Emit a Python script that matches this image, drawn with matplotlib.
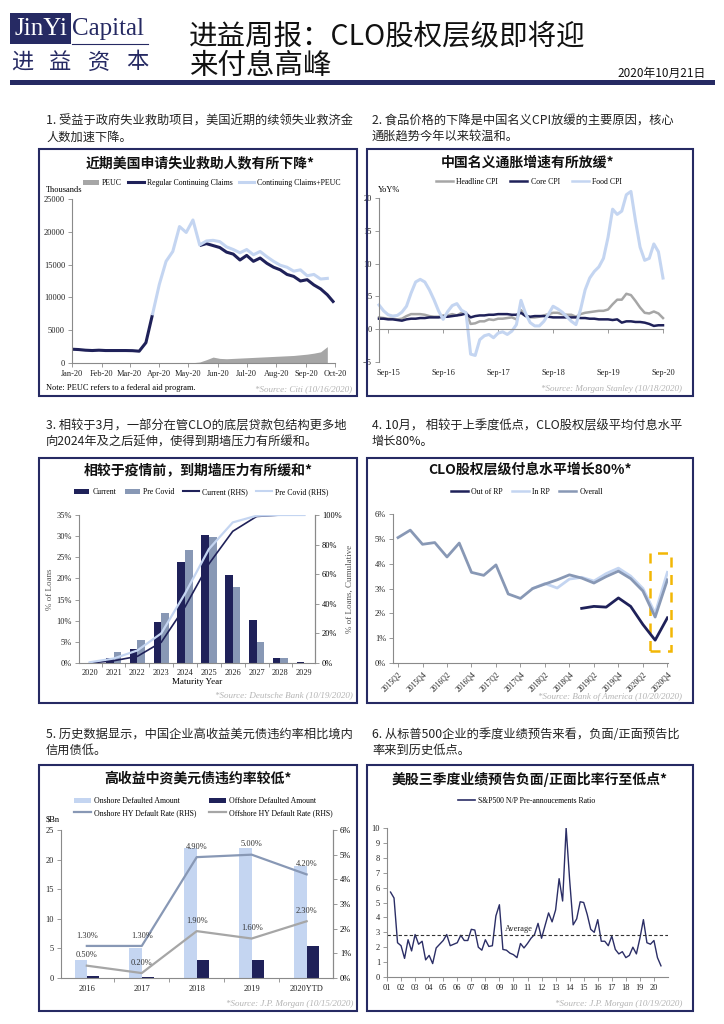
import numpy as np
import matplotlib
matplotlib.use("Agg")
import matplotlib.pyplot as plt
from matplotlib.patches import Rectangle, Patch
from matplotlib.lines import Line2D

nan = np.nan

# ---------------- Chart 1: US continuing claims (thousands), weekly ----------------
claims_start = "2020-01-01"
regular_claims = [2100, 2050, 1950, 1900, 1950, 1900, 1900, 1900, 1900, 1880, 1800, 3100, 7500,
                  nan, nan, nan, nan, nan, nan,
                  17900, 18200, 17900, 17600, 16900, 16600, 15700, 16400, 15500, 16000, 15200,
                  14600, 14200, 13500, 13200, 12500, 12700, 11900, 11300, 10400, 9200]
claims_plus_peuc = [nan, nan, nan, nan, nan, nan, nan, nan, nan, nan, nan, nan, 7500,
                    12000, 15500, 17000, 20800, 19900, 21800,
                    18000, 18600, 18700, 18500, 17700, 17300, 16800, 17300, 16500, 17000, 16200,
                    15500, 14900, 14600, 14000, 14200, 13300, 13500, 12800, 12900, nan]
peuc = [nan, nan, nan, nan, nan, nan, nan, nan, nan, nan, nan, nan, nan, nan, nan, nan, nan,
        0, 50, 150, 500, 900, 700, 650, 700, 750, 800, 850, 900, 950, 1000, 1050, 1100, 1150,
        1250, 1350, 1500, 1700, 2500, nan]
claims_month_ticks = ["2020-01-01", "2020-02-01", "2020-03-01", "2020-04-01", "2020-05-01",
                      "2020-06-01", "2020-07-01", "2020-08-01", "2020-09-01", "2020-10-01"]
claims_month_labels = ["Jan-20", "Feb-20", "Mar-20", "Apr-20", "May-20", "Jun-20", "Jul-20",
                       "Aug-20", "Sep-20", "Oct-20"]
claims_yticks = [0, 5000, 10000, 15000, 20000, 25000]

# ---------------- Chart 2: China CPI YoY%, monthly Jul-15 .. Sep-20 ----------------
cpi_tick_index = [2, 14, 26, 38, 50, 62]
cpi_tick_labels = ["Sep-15", "Sep-16", "Sep-17", "Sep-18", "Sep-19", "Sep-20"]
headline_cpi = [1.8, 1.7, 1.6, 1.6, 1.5, 1.6, 2.0, 2.3, 2.3, 2.3, 2.2, 2.0, 1.9, 1.9, 2.1, 2.1,
                2.3, 2.1, 2.5, 2.5, 0.8, 0.9, 1.2, 1.2, 1.5, 1.4, 1.6, 1.6, 1.7, 1.8, 1.5, 2.9,
                2.1, 1.8, 1.8, 1.9, 2.1, 2.3, 2.5, 2.5, 2.3, 2.2, 2.2, 1.9, 2.3, 2.5, 2.6, 2.7,
                2.8, 2.8, 3.0, 3.8, 4.5, 4.5, 5.4, 5.2, 4.3, 3.3, 2.5, 2.4, 2.7, 2.4, 1.7]
core_cpi = [1.6, 1.6, 1.5, 1.5, 1.4, 1.3, 1.5, 1.6, 1.6, 1.7, 1.7, 1.8, 1.8, 1.8, 1.9, 1.9,
            2.0, 2.1, 2.2, 2.4, 1.8, 2.0, 2.1, 2.1, 2.2, 2.2, 2.3, 2.3, 2.3, 2.2, 2.2, 2.5,
            2.0, 1.9, 2.0, 2.0, 2.0, 1.9, 1.8, 1.8, 1.8, 1.8, 1.8, 1.8, 1.7, 1.7, 1.6, 1.6,
            1.5, 1.5, 1.5, 1.4, 1.5, 1.0, 1.2, 1.2, 1.1, 1.1, 1.0, 0.8, 0.5, 0.6, 0.6]
food_cpi = [3.7, 2.8, 2.2, 2.0, 2.1, 2.6, 3.5, 5.5, 7.2, 7.6, 7.2, 6.0, 4.5, 2.8, 1.5, 2.7,
            3.6, 3.9, 2.9, 2.5, -3.8, -4.0, -1.6, -1.0, -0.8, -1.3, -0.6, -0.4, -0.8, -0.3, 0.7, 4.4,
            2.4, 1.0, 0.5, 0.5, 1.2, 2.3, 3.5, 3.1, 2.6, 1.9, 1.2, 0.7, 3.0, 6.0, 7.8, 8.8,
            9.5, 10.8, 14.0, 18.3, 17.5, 18.0, 20.5, 21.0, 16.5, 12.5, 10.5, 10.8, 13.0, 11.8, 7.8]

# ---------------- Chart 3: CLO loan maturity wall ----------------
maturity_years = ["2020", "2021", "2022", "2023", "2024", "2025", "2026", "2027", "2028", "2029"]
current_pct = [0.1, 1.2, 3.3, 9.7, 23.8, 30.2, 20.7, 10.2, 1.2, 0.3]
precovid_pct = [0.3, 2.7, 5.4, 11.9, 26.7, 29.7, 17.9, 4.9, 1.1, 0.0]
current_cum = [0.0, 1.5, 4.5, 14.0, 38.0, 67.0, 89.0, 99.0, 100.0, 100.0]
precovid_cum = [0.5, 3.0, 8.5, 20.0, 47.0, 77.0, 95.0, 99.5, 100.0, 100.0]

# ---------------- Chart 4: CLO equity distributions ----------------
clo_quarters = ["2015Q2", "2015Q3", "2015Q4", "2016Q1", "2016Q2", "2016Q3", "2016Q4",
                "2017Q1", "2017Q2", "2017Q3", "2017Q4", "2018Q1", "2018Q2", "2018Q3", "2018Q4",
                "2019Q1", "2019Q2", "2019Q3", "2019Q4", "2020Q1", "2020Q2", "2020Q3", "2020Q4"]
clo_overall = [5.05, 5.35, 4.78, 4.85, 4.27, 4.83, 3.65, 3.53, 3.95, 2.78, 2.6, 3.0, 3.18, 3.35,
               3.55, 3.42, 3.22, 3.48, 3.7, 3.4, 2.9, 1.85, 3.35]
clo_in_rp = [nan, nan, nan, nan, nan, nan, nan, nan, nan, nan, nan, 3.0, 3.2, 3.02, 3.38, 3.45,
             3.3, 3.6, 3.82, 3.5, 3.0, 2.0, 3.65]
clo_out_rp = [nan, nan, nan, nan, nan, nan, nan, nan, nan, nan, nan, nan, nan, nan, nan, 2.2,
              2.28, 2.25, 2.62, 2.28, 1.55, 0.92, 1.82]
clo_highlight = (20.57, 22.29, 0.47, 4.43)   # dashed box: x0, x1, y0, y1

# ---------------- Chart 5: China HY defaults ----------------
hy_years = ["2016", "2017", "2018", "2019", "2020YTD"]
onshore_amt = [3.0, 5.0, 22.0, 22.0, 19.0]
offshore_amt = [0.3, 0.1, 3.0, 3.0, 5.4]
onshore_rate = [1.3, 1.3, 4.9, 5.0, 4.2]
offshore_rate = [0.5, 0.2, 1.9, 1.6, 2.3]

# ---------------- Chart 6: S&P500 N/P pre-announcement ratio, quarterly ----------------
np_first_x = 1.25
np_ratio = [5.7, 5.3, 2.3, 2.1, 1.25, 2.5, 1.75, 2.85, 2.2, 2.4, 1.15, 1.45, 0.9, 1.95, 2.2, 2.45,
            2.85, 2.1, 2.2, 2.3, 2.8, 2.45, 2.45, 3.2, 3.15, 2.0, 1.8, 2.5, 2.05, 2.1, 4.1, 4.85,
            1.85, 1.8, 1.6, 1.5, 1.3, 2.25, 1.95, 2.25, 2.6, 2.85, 3.6, 2.6, 3.45, 4.3, 3.7, 4.5,
            6.6, 5.1, 10.0, 6.5, 3.5, 3.9, 5.05, 5.0, 4.2, 3.2, 3.0, 3.85, 2.4, 2.4, 2.1, 2.75,
            1.85, 1.55, 1.7, 1.3, 1.45, 2.0, 1.55, 2.6, 3.85, 2.3, 2.2, 2.45, 1.3, 0.75]
np_average = 2.85
np_year_labels = ["01", "02", "03", "04", "05", "06", "07", "08", "09", "10", "11", "12", "13",
                  "14", "15", "16", "17", "18", "19", "20"]

# ---------------- styling ----------------
W, H = 724, 1024
NAVY = "#1f2159"
LOGO = "#262a63"
LIGHT = "#c4d5f1"
STEEL = "#8898b5"
GRAY = "#a6a6a6"
AXC = "#8a8a8a"
SRC = "#b3b3b3"
CJK = ["Noto Sans CJK SC", "DejaVu Sans"]
SERIF = ["Liberation Serif", "DejaVu Serif"]

plt.rcParams["font.family"] = SERIF
plt.rcParams["font.size"] = 6
plt.rcParams["axes.linewidth"] = 0.8

fig = plt.figure(figsize=(W / 100, H / 100), dpi=100)
fig.patch.set_facecolor("white")


def rect(x0, y0, x1, y1):
    return [x0 / W, 1 - y1 / H, (x1 - x0) / W, (y1 - y0) / H]


def ftext(x, y, s, **kw):
    return fig.text(x / W, 1 - y / H, s, **kw)


def box(x0, y0, x1, y1, **kw):
    fig.add_artist(Rectangle((x0 / W, 1 - y1 / H), (x1 - x0) / W, (y1 - y0) / H,
                             transform=fig.transFigure, **kw))


def style(ax):
    for s in ["top", "right"]:
        ax.spines[s].set_visible(False)
    for s in ["left", "bottom"]:
        ax.spines[s].set_color(AXC)
        ax.spines[s].set_linewidth(0.8)
    ax.tick_params(labelsize=6, length=3, width=0.6, color=AXC, pad=2, labelcolor="#222222")
    ax.set_facecolor("none")


def legend(handles, labels, cx, cy, ncol, fs=5.6, cs=1.2, hl=2.2):
    fig.legend(handles, labels, loc="center", bbox_to_anchor=(cx / W, 1 - cy / H), ncol=ncol,
               frameon=False, fontsize=fs, handlelength=hl, handleheight=0.6,
               handletextpad=0.4, columnspacing=cs, labelspacing=0.5, borderpad=0.1)


def title(cx, cy, s):
    ftext(cx, cy, s, ha="center", va="center", fontsize=10, fontweight="bold",
          family=CJK, color="#111111")


def source(x, y, s):
    ftext(x, y, s, ha="right", va="center", fontsize=6.5, style="italic", color=SRC)


# ---------------- header ----------------
box(10, 13, 71, 44, facecolor=LOGO, edgecolor="none")
ftext(41, 29, "JinYi", ha="center", va="center", fontsize=18, color="white", family=SERIF)
ftext(72, 29, "Capital", ha="left", va="center", fontsize=18, color=LOGO, family=SERIF)
fig.add_artist(Line2D([72 / W, 148 / W], [1 - 44 / H, 1 - 44 / H], transform=fig.transFigure,
                      color=LOGO, lw=0.8))
for cx, ch in zip([22, 60, 99, 137], ["进", "益", "资", "本"]):
    ftext(cx, 62, ch, ha="center", va="center", fontsize=16, color=LOGO, family=CJK)
ftext(189, 36, "进益周报：CLO股权层级即将迎", ha="left", va="center", fontsize=20.5,
      family=CJK, color="#111111")
ftext(189, 66, "来付息高峰", ha="left", va="center", fontsize=20.5, family=CJK, color="#111111")
ftext(706, 73, "2020年10月21日", ha="right", va="center", fontsize=8.5, family=CJK,
      color="#111111")
box(10, 80, 715, 85, facecolor=LOGO, edgecolor="none")

# ---------------- paragraphs ----------------
paras = [
    (46, 121, "1. 受益于政府失业救助项目，美国近期的续领失业救济金"),
    (46, 137, "人数加速下降。"),
    (372, 121, "2. 食品价格的下降是中国名义CPI放缓的主要原因，核心"),
    (372, 137, "通胀趋势今年以来较温和。"),
    (46, 426, "3. 相较于3月，一部分在管CLO的底层贷款包结构更多地"),
    (46, 442, "向2024年及之后延伸，使得到期墙压力有所缓和。"),
    (372, 426, "4. 10月， 相较于上季度低点，CLO股权层级平均付息水平"),
    (372, 442, "增长80%。"),
    (46, 734, "5. 历史数据显示，中国企业高收益美元债违约率相比境内"),
    (46, 750, "信用债低。"),
    (372, 734, "6. 从标普500企业的季度业绩预告来看，负面/正面预告比"),
    (372, 750, "率来到历史低点。"),
]
for x, y, s in paras:
    ftext(x, y, s, ha="left", va="center", fontsize=8.8, family=CJK, color="#222222")

# ---------------- panel borders ----------------
for (x0, y0, x1, y1) in [(39, 149, 357, 396), (367, 149, 693, 396),
                         (39, 458, 357, 703), (367, 458, 693, 703),
                         (39, 765, 357, 1011), (367, 765, 693, 1011)]:
    box(x0, y0, x1, y1, fill=False, edgecolor=LOGO, lw=1.5)

# ================= Chart 1 =================
title(200, 163, "近期美国申请失业救助人数有所下降*")
ax1 = fig.add_axes(rect(72, 199, 335, 363))
style(ax1)
start = np.datetime64(claims_start)
dates = start + np.arange(len(regular_claims)) * np.timedelta64(7, "D")
peuc_arr = np.array(peuc, dtype=float)
ax1.fill_between(dates, 0, peuc_arr, where=~np.isnan(peuc_arr), color=GRAY, lw=0)
ax1.plot(dates, regular_claims, color=NAVY, lw=2.2, solid_capstyle="butt")
ax1.plot(dates, claims_plus_peuc, color=LIGHT, lw=2.2)
ax1.set_xlim(np.datetime64(claims_month_ticks[0]), np.datetime64(claims_month_ticks[-1]))
ax1.set_ylim(0, 25000)
ax1.set_yticks(claims_yticks)
ax1.set_xticks([np.datetime64(d) for d in claims_month_ticks])
ax1.set_xticklabels(claims_month_labels)
ftext(46, 190, "Thousands", ha="left", va="center", fontsize=6)
legend([Patch(facecolor=GRAY), Line2D([], [], color=NAVY, lw=2.2),
        Line2D([], [], color=LIGHT, lw=2.2)],
       ["PEUC", "Regular Continuing Claims", "Continuing Claims+PEUC"], 212, 183, 3,
       fs=5.6, cs=0.8, hl=2.0)
ftext(46, 388, "Note: PEUC refers to a federal aid program.", ha="left", va="center", fontsize=6)
source(352, 389, "*Source: Citi (10/16/2020)")

# ================= Chart 2 =================
title(528, 163, "中国名义通胀增速有所放缓*")
ax2 = fig.add_axes(rect(379, 198, 663, 362))
style(ax2)
idx = np.arange(len(food_cpi))
ax2.plot(idx, headline_cpi, color=GRAY, lw=1.8, clip_on=False)
ax2.plot(idx, core_cpi, color=NAVY, lw=1.8, clip_on=False)
ax2.plot(idx, food_cpi, color=LIGHT, lw=2.2, clip_on=False)
ax2.set_xlim(0, len(food_cpi) - 1)
ax2.set_ylim(-5, 20)
ax2.set_yticks([-5, 0, 5, 10, 15, 20])
ax2.spines["bottom"].set_position(("data", 0))
ax2.set_xticks(cpi_tick_index)
ax2.set_xticklabels(cpi_tick_labels)
ax2.tick_params(axis="x", pad=26)
ftext(378, 190, "YoY%", ha="left", va="center", fontsize=6)
legend([Line2D([], [], color=GRAY, lw=1.8), Line2D([], [], color=NAVY, lw=1.8),
        Line2D([], [], color=LIGHT, lw=1.8)],
       ["Headline CPI", "Core CPI", "Food CPI"], 529, 182, 3, fs=5.6, cs=1.6)
source(682, 389, "*Source: Morgan Stanley (10/18/2020)")

# ================= Chart 3 =================
title(198, 470, "相较于疫情前，到期墙压力有所缓和*")
ax3 = fig.add_axes(rect(79, 515, 315, 663))
style(ax3)
ax3.spines["right"].set_visible(True)
ax3.spines["right"].set_color(AXC)
x3 = np.arange(len(maturity_years))
ax3.bar(x3 - 0.16, current_pct, width=0.32, color=NAVY, zorder=2)
ax3.bar(x3 + 0.16, precovid_pct, width=0.32, color=STEEL, zorder=2)
ax3.set_xlim(-0.45, 9.45)
ax3.set_ylim(0, 35)
ax3.set_yticks([0, 5, 10, 15, 20, 25, 30, 35])
ax3.set_yticklabels(["0%", "5%", "10%", "15%", "20%", "25%", "30%", "35%"])
ax3.set_xticks(x3)
ax3.set_xticklabels(maturity_years)
ax3.set_xticks(x3[:-1] + 0.5, minor=True)
ax3.tick_params(axis="x", which="major", length=0, pad=4)
ax3.tick_params(axis="x", which="minor", length=3, color=AXC)
ax3.set_xlabel("Maturity Year", fontsize=6.5, labelpad=1)
ax3.set_ylabel("% of Loans", fontsize=6.5, color="#555555", labelpad=2)
ax3r = ax3.twinx()
ax3r.set_facecolor("none")
for s in ["top", "left", "bottom"]:
    ax3r.spines[s].set_visible(False)
ax3r.spines["right"].set_color(AXC)
ax3r.plot(x3, current_cum, color=NAVY, lw=1.2, zorder=3)
ax3r.plot(x3, precovid_cum, color=LIGHT, lw=1.6, zorder=3)
ax3r.set_ylim(0, 100)
ax3r.set_yticks([0, 20, 40, 60, 80, 100])
ax3r.set_yticklabels(["0%", "20%", "40%", "60%", "80%", "100%"])
ax3r.tick_params(labelsize=6, length=3, width=0.6, color=AXC, pad=2)
ax3r.set_ylabel("% of Loans, Cumulative", fontsize=6.5, color="#555555", rotation=90,
                labelpad=3)
legend([Patch(facecolor=NAVY), Patch(facecolor=STEEL), Line2D([], [], color=NAVY, lw=1.5),
        Line2D([], [], color=LIGHT, lw=1.5)],
       ["Current", "Pre Covid", "Current (RHS)", "Pre Covid (RHS)"], 201, 492, 4,
       fs=5.6, cs=1.1, hl=2.0)
source(353, 695, "*Source: Deutsche Bank (10/19/2020)")

# ================= Chart 4 =================
title(530, 470, "CLO股权层级付息水平增长80%*")
ax4 = fig.add_axes(rect(393, 514, 668, 663))
style(ax4)
x4 = np.arange(len(clo_quarters))
ax4.plot(x4, clo_out_rp, color=NAVY, lw=2.0)
ax4.plot(x4, clo_in_rp, color=LIGHT, lw=2.0)
ax4.plot(x4, clo_overall, color=STEEL, lw=2.0)
ax4.set_xlim(-0.41, 22.05)
ax4.set_ylim(0, 6)
ax4.set_yticks([0, 1, 2, 3, 4, 5, 6])
ax4.set_yticklabels(["0%", "1%", "2%", "3%", "4%", "5%", "6%"])
ax4.set_xticks(x4[::2])
ax4.set_xticklabels(clo_quarters[::2], rotation=45, ha="right", rotation_mode="anchor",
                    fontsize=5.5)
bx0, bx1, by0, by1 = clo_highlight
ax4.add_patch(Rectangle((bx0, by0), bx1 - bx0, by1 - by0, fill=False, edgecolor="#f2b705",
                        lw=1.8, ls=(0, (4, 3)), clip_on=False))
legend([Line2D([], [], color=NAVY, lw=1.8), Line2D([], [], color=LIGHT, lw=1.8),
        Line2D([], [], color=STEEL, lw=1.8)],
       ["Out of RP", "In RP", "Overall"], 527, 492, 3, fs=5.6, cs=1.2)
source(682, 697, "*Source: Bank of America (10/20/2020)")

# ================= Chart 5 =================
title(198, 779, "高收益中资美元债违约率较低*")
ax5 = fig.add_axes(rect(61, 830, 333, 978))
style(ax5)
ax5.spines["right"].set_visible(True)
ax5.spines["right"].set_color(AXC)
x5 = np.arange(len(hy_years))
ax5.bar(x5 - 0.112, onshore_amt, width=0.224, color=LIGHT, zorder=2)
ax5.bar(x5 + 0.112, offshore_amt, width=0.224, color=NAVY, zorder=2)
ax5.set_xlim(-0.47, 4.48)
ax5.set_ylim(0, 25)
ax5.set_yticks([0, 5, 10, 15, 20, 25])
ax5.set_xticks(x5)
ax5.set_xticklabels(hy_years)
ax5.set_xticks(x5[:-1] + 0.5, minor=True)
ax5.tick_params(axis="x", which="major", length=0, pad=5)
ax5.tick_params(axis="x", which="minor", length=3, color=AXC)
ax5r = ax5.twinx()
ax5r.set_facecolor("none")
for s in ["top", "left", "bottom"]:
    ax5r.spines[s].set_visible(False)
ax5r.spines["right"].set_color(AXC)
ax5r.plot(x5, onshore_rate, color=STEEL, lw=1.6, zorder=3)
ax5r.plot(x5, offshore_rate, color=GRAY, lw=1.6, zorder=3)
ax5r.set_ylim(0, 6)
ax5r.set_yticks([0, 1, 2, 3, 4, 5, 6])
ax5r.set_yticklabels(["0%", "1%", "2%", "3%", "4%", "5%", "6%"])
ax5r.tick_params(labelsize=6, length=3, width=0.6, color=AXC, pad=2)
for xi, v in zip(x5, onshore_rate):
    ax5r.annotate(f"{v:.2f}%", (xi, v), xytext=(0, 7.5), textcoords="offset points",
                  ha="center", va="center", fontsize=6, color="#333333")
for xi, v in zip(x5, offshore_rate):
    ax5r.annotate(f"{v:.2f}%", (xi, v), xytext=(0, 7.5), textcoords="offset points",
                  ha="center", va="center", fontsize=6, color="#333333")
ftext(46, 819, "$Bn", ha="left", va="center", fontsize=6)
legend([Patch(facecolor=LIGHT), Line2D([], [], color=STEEL, lw=1.6),
        Patch(facecolor=NAVY), Line2D([], [], color=GRAY, lw=1.6)],
       ["Onshore Defaulted Amount", "Onshore HY Default Rate (RHS)",
        "Offshore Defaulted Amount", "Offshore HY Default Rate (RHS)"], 203, 807, 2,
       fs=5.6, cs=1.6)
source(353, 1004, "*Source: J.P. Morgan (10/15/2020)")

# ================= Chart 6 =================
title(530, 779, "美股三季度业绩预告负面/正面比率行至低点*")
ax6 = fig.add_axes(rect(387, 828, 668, 977))
style(ax6)
x6 = np_first_x + 0.25 * np.arange(len(np_ratio))
ax6.plot(x6, np_ratio, color="#2b2e66", lw=1.0)
ax6.axhline(np_average, color="#333333", lw=0.8, ls=(0, (3, 2)))
ax6.text(10.4, np_average + 0.1, "Average", ha="center", va="bottom", fontsize=6,
         color="#222222")
ax6.set_xlim(1, 21)
ax6.set_ylim(0, 10)
ax6.set_yticks(range(0, 11))
ax6.set_xticks(range(1, 21))
ax6.set_xticklabels(np_year_labels)
legend([Line2D([], [], color="#2b2e66", lw=1.2)], ["S&P500 N/P Pre-annoucements Ratio"],
       527, 801, 1, fs=5.6)
source(682, 1004, "*Source: J.P. Morgan (10/19/2020)")

fig.savefig("out.png", dpi=100, facecolor="white")
